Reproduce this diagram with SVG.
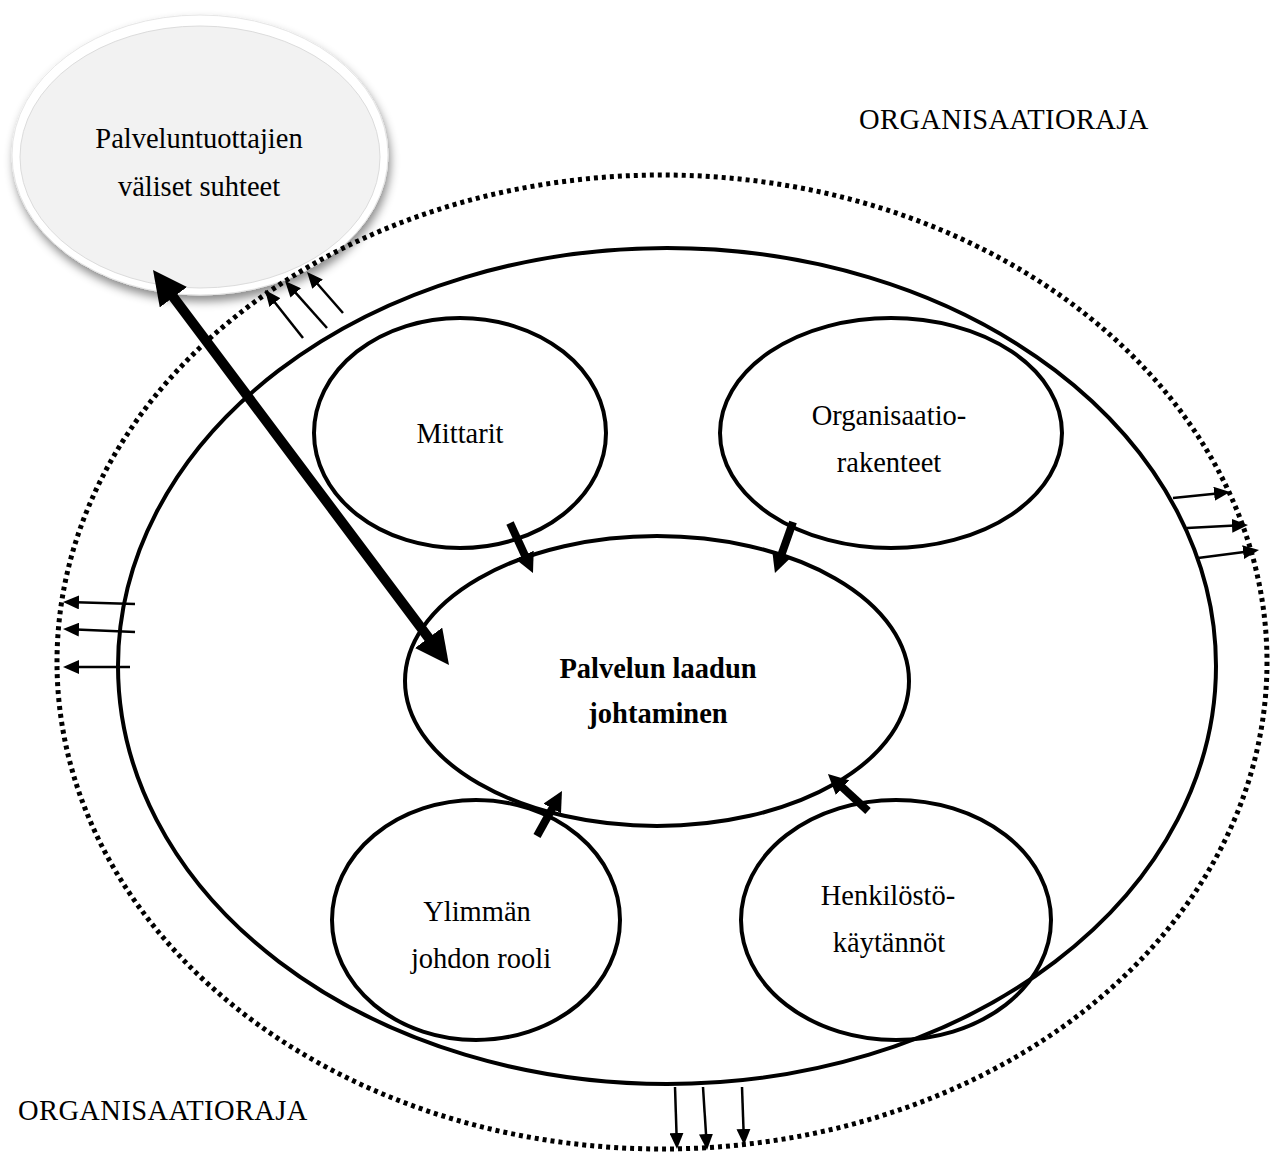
<svg xmlns="http://www.w3.org/2000/svg" width="1274" height="1154" viewBox="0 0 1274 1154">
<style>
.t{font-family:"Liberation Serif","Times New Roman",serif;font-size:28.5px;fill:#000;text-anchor:middle}
.b{font-weight:bold}
.ol{fill:none;stroke:#000;stroke-width:4}
.thin{stroke:#000;stroke-width:2.5;fill:none}
.thick{stroke:#000;stroke-width:8;fill:none}
.big{stroke:#000;stroke-width:10;fill:none}
</style>
<defs>
<filter id="sh" x="-20%" y="-20%" width="140%" height="150%">
<feDropShadow dx="2" dy="6" stdDeviation="5" flood-color="#000" flood-opacity="0.45"/>
</filter>
<marker id="hs" markerUnits="userSpaceOnUse" markerWidth="16" markerHeight="14" refX="3" refY="7" orient="auto">
<path d="M0,0 L16,7 L0,14 z" fill="#000"/>
</marker>
<marker id="hm" markerUnits="userSpaceOnUse" markerWidth="20" markerHeight="20" refX="4" refY="10" orient="auto">
<path d="M0,0 L20,10 L0,20 z" fill="#000"/>
</marker>
<marker id="hb" markerUnits="userSpaceOnUse" markerWidth="34" markerHeight="34" refX="8" refY="17" orient="auto-start-reverse">
<path d="M0,0 L34,17 L0,34 z" fill="#000"/>
</marker>
</defs>
<rect width="1274" height="1154" fill="#fff"/>

<g id="palveluntuottajat">
<ellipse cx="200" cy="155" rx="188" ry="140" fill="#fff" stroke="#e6e6e6" stroke-width="1" filter="url(#sh)"/>
<ellipse cx="200" cy="157" rx="180" ry="131" fill="#f2f2f2" stroke="#dcdcdc" stroke-width="1"/>
<text class="t" x="199" y="148">Palveluntuottajien</text>
<text class="t" x="199" y="196">väliset suhteet</text>
</g>

<g id="organisaatioraja">
<ellipse cx="662" cy="662" rx="605" ry="487" fill="none" stroke="#000" stroke-width="5" stroke-dasharray="4 4"/>
<text class="t" x="859" y="129" style="text-anchor:start;letter-spacing:0.4px">ORGANISAATIORAJA</text>
<text class="t" x="18" y="1120" style="text-anchor:start;letter-spacing:0.4px">ORGANISAATIORAJA</text>
</g>

<g id="organisaatio">
<ellipse class="ol" cx="667" cy="666" rx="549" ry="418"/>
</g>

<g id="mittarit">
<ellipse class="ol" cx="460" cy="433" rx="146" ry="115"/>
<text class="t" x="460" y="443">Mittarit</text>
</g>

<g id="organisaatiorakenteet">
<ellipse class="ol" cx="891" cy="433" rx="171" ry="115"/>
<text class="t" x="889" y="425">Organisaatio-</text>
<text class="t" x="889" y="472">rakenteet</text>
</g>

<g id="laadunjohtaminen">
<ellipse class="ol" cx="657" cy="681" rx="252" ry="145"/>
<text class="t b" x="658" y="678">Palvelun laadun</text>
<text class="t b" x="658" y="723">johtaminen</text>
</g>

<g id="ylimman">
<ellipse class="ol" cx="476" cy="920" rx="144" ry="120"/>
<text class="t" x="477" y="921">Ylimmän</text>
<text class="t" x="481" y="968">johdon rooli</text>
</g>

<g id="henkilosto">
<ellipse class="ol" cx="896" cy="920" rx="155" ry="120"/>
<text class="t" x="888" y="905">Henkilöstö-</text>
<text class="t" x="889" y="952">käytännöt</text>
</g>

<g id="connectors">
<line class="big" x1="168.6" y1="290.8" x2="433.4" y2="644.2" marker-start="url(#hb)" marker-end="url(#hb)"/>
<line class="thick" x1="510" y1="523" x2="526.3" y2="558.5" marker-end="url(#hm)"/>
<line class="thick" x1="793" y1="522" x2="780.3" y2="557.9" marker-end="url(#hm)"/>
<line class="thick" x1="537" y1="836" x2="554.2" y2="805" marker-end="url(#hm)"/>
<line class="thick" x1="868" y1="811" x2="839.7" y2="784.9" marker-end="url(#hm)"/>
<line class="thin" x1="303" y1="338" x2="273.1" y2="300.2" marker-end="url(#hs)"/>
<line class="thin" x1="327" y1="328" x2="293.7" y2="290.7" marker-end="url(#hs)"/>
<line class="thin" x1="343" y1="313" x2="315.6" y2="281.8" marker-end="url(#hs)"/>
<line class="thin" x1="1173" y1="498" x2="1217.1" y2="493.4" marker-end="url(#hs)"/>
<line class="thin" x1="1187" y1="528" x2="1235" y2="525.6" marker-end="url(#hs)"/>
<line class="thin" x1="1198" y1="558" x2="1246.1" y2="551.7" marker-end="url(#hs)"/>
<line class="thin" x1="135" y1="604" x2="76" y2="602.3" marker-end="url(#hs)"/>
<line class="thin" x1="135" y1="632" x2="76" y2="629.5" marker-end="url(#hs)"/>
<line class="thin" x1="130" y1="667" x2="76" y2="667" marker-end="url(#hs)"/>
<line class="thin" x1="675" y1="1087" x2="676.6" y2="1136" marker-end="url(#hs)"/>
<line class="thin" x1="703" y1="1087" x2="706.2" y2="1137" marker-end="url(#hs)"/>
<line class="thin" x1="742" y1="1087" x2="743.6" y2="1132" marker-end="url(#hs)"/>
</g>
</svg>
